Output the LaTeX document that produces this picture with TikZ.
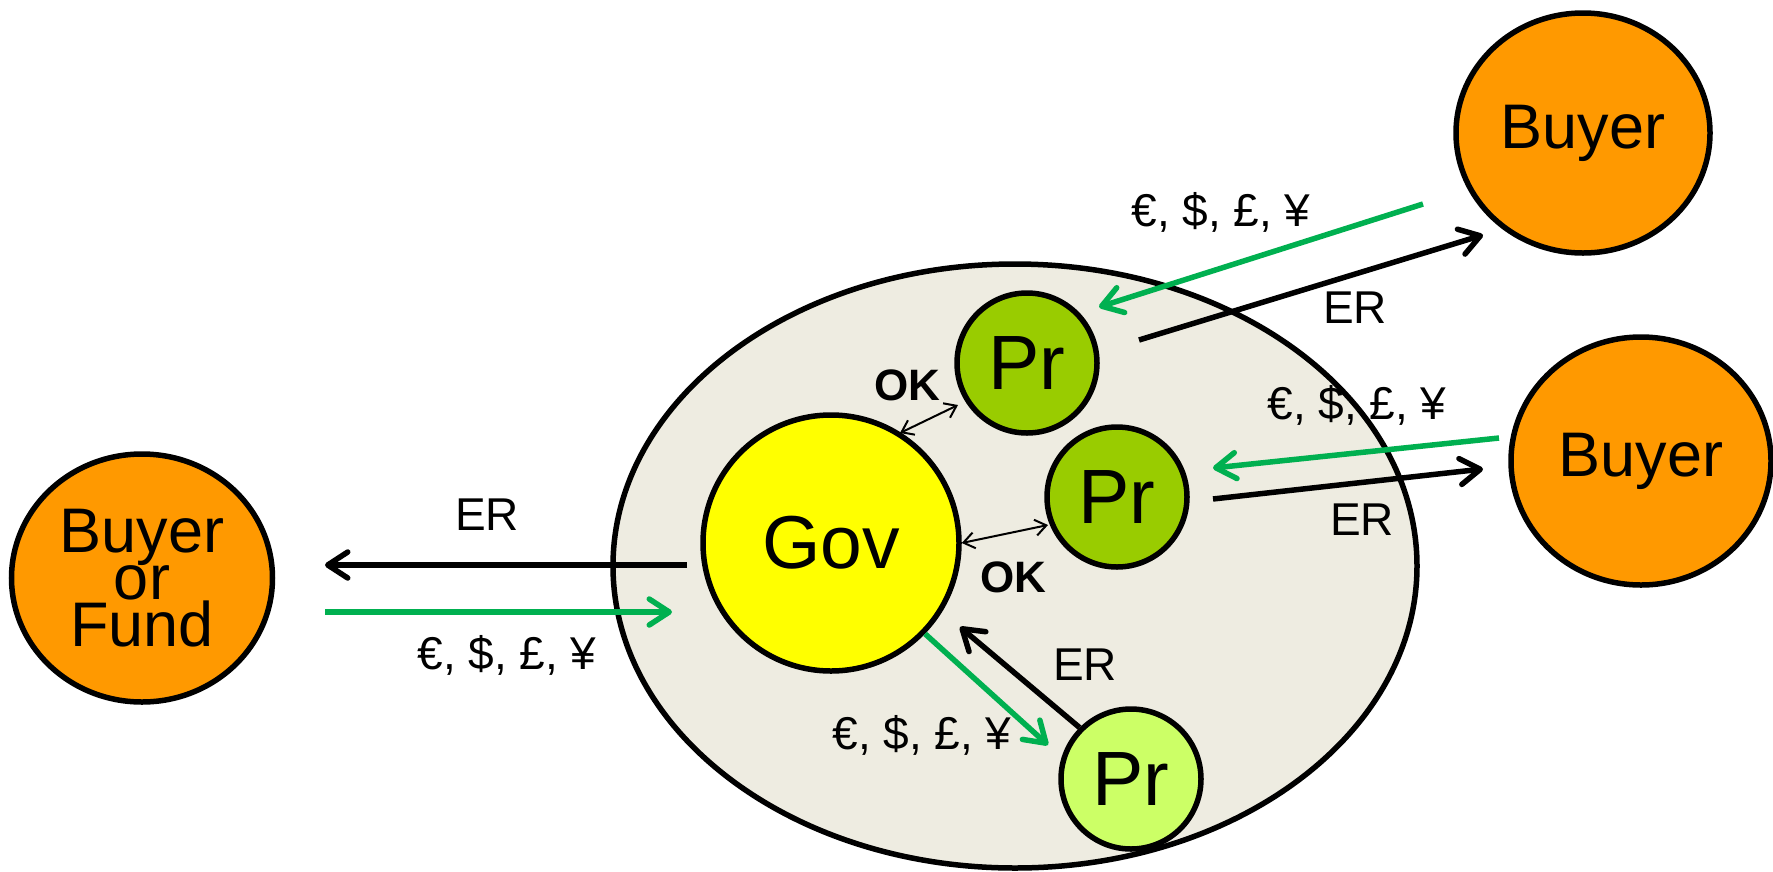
\documentclass[tikz,border=0pt]{standalone}
\usepackage{fontspec}
\setmainfont{Liberation Sans}
\usetikzlibrary{arrows.meta,shapes.geometric}

\definecolor{orangefill}{HTML}{FF9900}
\definecolor{prgreen}{HTML}{99CC00}
\definecolor{prlight}{HTML}{CCFF66}
\definecolor{govyellow}{HTML}{FFFF00}
\definecolor{areafill}{HTML}{EEECE1}
\definecolor{moneygreen}{HTML}{00B050}

\tikzset{
  outline/.style={draw=black, line width=5.5pt},
  party/.style={ellipse, outline, fill=orangefill, inner sep=0pt,
    align=center, font=\fontsize{63}{47}\selectfont},
  prnode/.style={circle, outline, minimum size=140pt, inner sep=0pt,
    font=\fontsize{77}{77}\selectfont},
  flow/.style={line width=5.5pt, -{Straight Barb[length=20pt,width=26pt,round]}},
  er/.style={flow, draw=black},
  money/.style={flow, draw=moneygreen},
  okarrow/.style={line width=2pt,
    {Straight Barb[length=11pt,width=16pt]}-{Straight Barb[length=11pt,width=16pt]}},
  lbl/.style={inner sep=0pt, font=\fontsize{46}{46}\selectfont},
  oklbl/.style={inner sep=0pt, font=\bfseries\fontsize{44}{44}\selectfont},
}

\begin{document}
\begin{tikzpicture}[x=1pt,y=-1pt]
\useasboundingbox (0,0) rectangle (1773,871);

% country area
\node[ellipse, outline, fill=areafill, inner sep=0pt,
      minimum width=804pt, minimum height=604pt] (area) at (1015,566) {};

% actors
\node[circle, outline, fill=govyellow, inner sep=0pt,
      minimum size=256pt, font=\fontsize{75}{75}\selectfont] (gov) at (831,543) {Gov};
\node[prnode, fill=prgreen] (pr1) at (1027,363) {Pr};
\node[prnode, fill=prgreen] (pr2) at (1117,497) {Pr};
\node[prnode, fill=prlight] (pr3) at (1131,779) {Pr};

\node[party, minimum width=254pt, minimum height=240pt] (buyerA) at (1583,133) {Buyer};
\node[party, minimum width=260pt, minimum height=248pt] (buyerB) at (1641,461) {Buyer};
\node[party, minimum width=261pt, minimum height=248pt] (fund) at (142,578) {Buyer\\or\\Fund};

% free ends of the flows
\coordinate (erLfrom) at (687,565);
\coordinate (erLto)   at (325,565);
\coordinate (mLfrom)  at (325,612);
\coordinate (mLto)    at (672,612);
\coordinate (mAfrom)  at (1423,204);
\coordinate (mAto)    at (1099,307);
\coordinate (erAfrom) at (1139,340);
\coordinate (erAto)   at (1483,235);
\coordinate (mBfrom)  at (1499,438);
\coordinate (mBto)    at (1213,468);
\coordinate (erBfrom) at (1213,499);
\coordinate (erBto)   at (1483,469);
\coordinate (ok1a)    at (900,433);
\coordinate (ok1b)    at (958,405);
\coordinate (ok2b)    at (1048,525);
\coordinate (mCto)    at (1048,745);
\coordinate (erCto)   at (960,627);

% flows with the outside buyers
\draw[er] (erLfrom) -- (erLto);
\draw[money] (mLfrom) -- (mLto);
\draw[money] (mAfrom) -- (mAto);
\draw[er] (erAfrom) -- (erAto);
\draw[money] (mBfrom) -- (mBto);
\draw[er] (erBfrom) -- (erBto);

% approvals between government and producers
\draw[okarrow] (ok1a) -- (ok1b);
\draw[okarrow] (gov.0) -- (ok2b);

% exchange with the third producer
\draw[money] (gov.-44) -- (mCto);
\draw[er] (pr3.135) -- (erCto);

% labels
\node[lbl] (lerL) at (487,515) {ER};
\node[lbl] (lmL)  at (507,655) {€, \$, £, ¥};
\node[lbl] (lmA)  at (1221,212) {€, \$, £, ¥};
\node[lbl] (lerA) at (1355,308) {ER};
\node[lbl] (lmB)  at (1357,405) {€, \$, £, ¥};
\node[lbl] (lerB) at (1362,520) {ER};
\node[lbl] (lerC) at (1085,665) {ER};
\node[lbl] (lmC)  at (922,735) {€, \$, £, ¥};
\node[oklbl] (ok1) at (907,385) {OK};
\node[oklbl] (ok2) at (1013,577) {OK};
\end{tikzpicture}
\end{document}
